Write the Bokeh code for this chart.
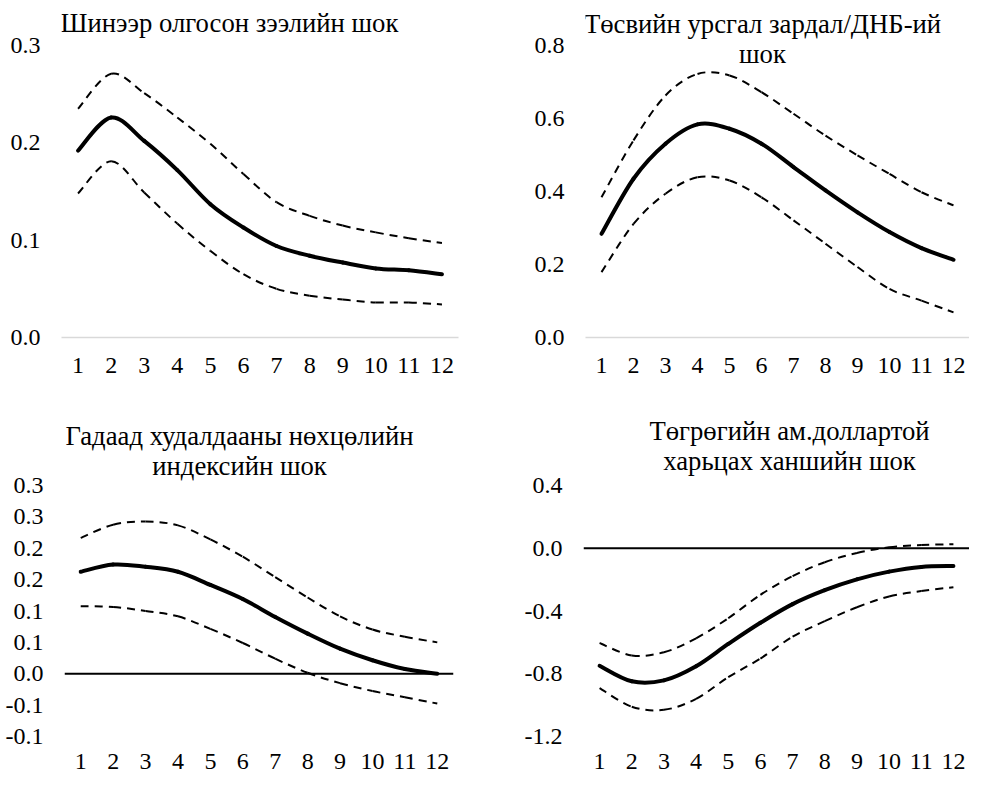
from bokeh.plotting import figure
from bokeh.layouts import column, row
from bokeh.models import Range1d, FixedTicker, Span, Label, ColumnDataSource
from bokeh.embed import file_html
from bokeh.resources import INLINE

# ---------------- data ----------------
periods = [1, 2, 3, 4, 5, 6, 7, 8, 9, 10, 11, 12]
x_tick_labels = [str(v) for v in periods]

# Panel 1: new loans shock
p1_title = ["Шинээр олгосон зээлийн шок"]
p1_mid = [0.192, 0.226, 0.202, 0.172, 0.137, 0.113, 0.094, 0.084, 0.077, 0.071, 0.069, 0.065]
p1_up = [0.235, 0.271, 0.251, 0.226, 0.199, 0.168, 0.139, 0.125, 0.115, 0.108, 0.102, 0.097]
p1_lo = [0.148, 0.181, 0.149, 0.117, 0.089, 0.065, 0.050, 0.043, 0.039, 0.036, 0.036, 0.034]
p1_yticks = [0.0, 0.1, 0.2, 0.3]
p1_ylabels = ["0.0", "0.1", "0.2", "0.3"]

# Panel 2: current budget expenditure / GDP shock
p2_title = ["Төсвийн урсгал зардал/ДНБ-ий", "шок"]
p2_mid = [0.284, 0.435, 0.531, 0.584, 0.572, 0.531, 0.467, 0.403, 0.343, 0.289, 0.245, 0.213]
p2_up = [0.384, 0.540, 0.663, 0.722, 0.718, 0.672, 0.613, 0.553, 0.499, 0.448, 0.398, 0.362]
p2_lo = [0.179, 0.311, 0.394, 0.439, 0.430, 0.384, 0.321, 0.257, 0.193, 0.133, 0.101, 0.069]
p2_yticks = [0.0, 0.2, 0.4, 0.6, 0.8]
p2_ylabels = ["0.0", "0.2", "0.4", "0.6", "0.8"]

# Panel 3: terms of trade index shock
p3_title = ["Гадаад худалдааны нөхцөлийн", "индексийн шок"]
p3_mid = [0.1625, 0.174, 0.1705, 0.1625, 0.1415, 0.119, 0.0905, 0.064, 0.040, 0.0215, 0.0075, 0.0]
p3_up = [0.2165, 0.2375, 0.2425, 0.2365, 0.214, 0.1865, 0.154, 0.1215, 0.0915, 0.0705, 0.059, 0.050]
p3_lo = [0.1075, 0.1065, 0.100, 0.0915, 0.0715, 0.049, 0.024, 0.0015, -0.015, -0.0275, -0.0375, -0.0475]
p3_yticks = [-0.10, -0.05, 0.0, 0.05, 0.10, 0.15, 0.20, 0.25, 0.30]
p3_ylabels = ["-0.1", "-0.1", "0.0", "0.1", "0.1", "0.2", "0.2", "0.3", "0.3"]

# Panel 4: MNT / USD exchange rate shock
p4_title = ["Төгрөгийн ам.доллартой", "харьцах ханшийн шок"]
p4_mid = [-0.749, -0.848, -0.842, -0.752, -0.610, -0.475, -0.356, -0.267, -0.198, -0.149, -0.119, -0.113]
p4_up = [-0.604, -0.683, -0.663, -0.574, -0.446, -0.297, -0.178, -0.089, -0.030, 0.006, 0.020, 0.026]
p4_lo = [-0.891, -1.010, -1.030, -0.960, -0.822, -0.703, -0.564, -0.465, -0.376, -0.307, -0.273, -0.248]
p4_yticks = [-1.2, -0.8, -0.4, 0.0, 0.4]
p4_ylabels = ["-1.2", "-0.8", "-0.4", "0.0", "0.4"]

FONT = "Liberation Serif"
TICK_FS = "24px"
TITLE_FS = "26.7px"


def smooth_segments(xs, ys):
    """Cubic Bezier segments through the data points (Excel-style smoothed line)."""
    n = len(xs)
    d = dict(x0=[], y0=[], x1=[], y1=[], cx0=[], cy0=[], cx1=[], cy1=[])
    for i in range(n - 1):
        xa, ya = xs[i - 1] if i > 0 else xs[i], ys[i - 1] if i > 0 else ys[i]
        xb, yb = xs[i], ys[i]
        xc, yc = xs[i + 1], ys[i + 1]
        xd, yd = (xs[i + 2], ys[i + 2]) if i + 2 < n else (xc, yc)
        d["x0"].append(xb); d["y0"].append(yb)
        d["x1"].append(xc); d["y1"].append(yc)
        d["cx0"].append(xb + (xc - xa) / 6.0); d["cy0"].append(yb + (yc - ya) / 6.0)
        d["cx1"].append(xc - (xd - xb) / 6.0); d["cy1"].append(yc - (yd - yb) / 6.0)
    return ColumnDataSource(d)


def make_panel(title_lines, mid, up, lo, yticks, ylabels, zero_line,
               bl, fw, br, bt, fh, bb, extra_top, title_cx, title_y, x_standoff):
    lo_t, hi_t = min(yticks), max(yticks)
    data_px = fh - extra_top
    y_end = hi_t + extra_top * (hi_t - lo_t) / data_px
    p = figure(frame_width=fw, frame_height=fh, output_backend="svg", toolbar_location=None,
               x_range=Range1d(0.5, 12.5), y_range=Range1d(lo_t, y_end),
               min_border_left=bl, min_border_right=br, min_border_top=bt,
               min_border_bottom=bb)
    p.outline_line_color = None
    p.grid.grid_line_color = None
    p.background_fill_color = "white"
    p.border_fill_color = "white"

    xa = p.xaxis[0]
    xa.ticker = FixedTicker(ticks=periods)
    xa.major_label_overrides = {v: s for v, s in zip(periods, x_tick_labels)}
    xa.major_tick_line_color = None
    xa.minor_tick_line_color = None
    xa.major_tick_out = 0
    xa.major_tick_in = 0
    xa.minor_tick_out = 0
    xa.minor_tick_in = 0
    xa.major_label_text_font = FONT
    xa.major_label_text_font_size = TICK_FS
    xa.major_label_text_color = "black"
    xa.major_label_standoff = x_standoff
    if zero_line:
        xa.axis_line_color = None
    else:
        xa.axis_line_color = "#d9d9d9"
        xa.axis_line_width = 1.5

    ya = p.yaxis[0]
    ya.ticker = FixedTicker(ticks=yticks)
    ya.major_label_overrides = {v: s for v, s in zip(yticks, ylabels)}
    ya.axis_line_color = None
    ya.major_tick_line_color = None
    ya.minor_tick_line_color = None
    ya.major_tick_out = 0
    ya.major_tick_in = 0
    ya.minor_tick_out = 0
    ya.minor_tick_in = 0
    ya.major_label_text_font = FONT
    ya.major_label_text_font_size = TICK_FS
    ya.major_label_text_color = "black"
    ya.major_label_standoff = 21

    if zero_line:
        p.add_layout(Span(location=0, dimension="width", line_color="black", line_width=2))

    bez = dict(x0="x0", y0="y0", x1="x1", y1="y1", cx0="cx0", cy0="cy0", cx1="cx1", cy1="cy1")
    p.bezier(source=smooth_segments(periods, up), line_color="black", line_width=2,
             line_dash="8 6", **bez)
    p.bezier(source=smooth_segments(periods, lo), line_color="black", line_width=2,
             line_dash="8 6", **bez)
    p.bezier(source=smooth_segments(periods, mid), line_color="black", line_width=4,
             line_cap="round", **bez)

    for i, t in enumerate(title_lines):
        p.add_layout(Label(x=title_cx, y=title_y - 30 * i, x_units="screen", y_units="screen",
                           text=t, text_font=FONT, text_font_size=TITLE_FS, text_color="black",
                           text_align="center", text_baseline="middle"))
    return p


p1 = make_panel(p1_title, p1_mid, p1_up, p1_lo, p1_yticks, p1_ylabels, False,
                61, 397, 26, 3, 334, 53, 42, 168, 315, 20)
p2 = make_panel(p2_title, p2_mid, p2_up, p2_lo, p2_yticks, p2_ylabels, False,
                101, 384, 0, 3, 334, 53, 42, 177, 314, 20)
p3 = make_panel(p3_title, p3_mid, p3_up, p3_lo, p3_yticks, p3_ylabels, True,
                64, 389, 31, 20, 326, 44, 75, 175, 301, 17)
p4 = make_panel(p4_title, p4_mid, p4_up, p4_lo, p4_yticks, p4_ylabels, True,
                99, 386, 0, 20, 326, 44, 75, 206, 306, 17)

layout = column(row(p1, p2), row(p3, p4))

open("out.html", "w").write(file_html(layout, INLINE))
